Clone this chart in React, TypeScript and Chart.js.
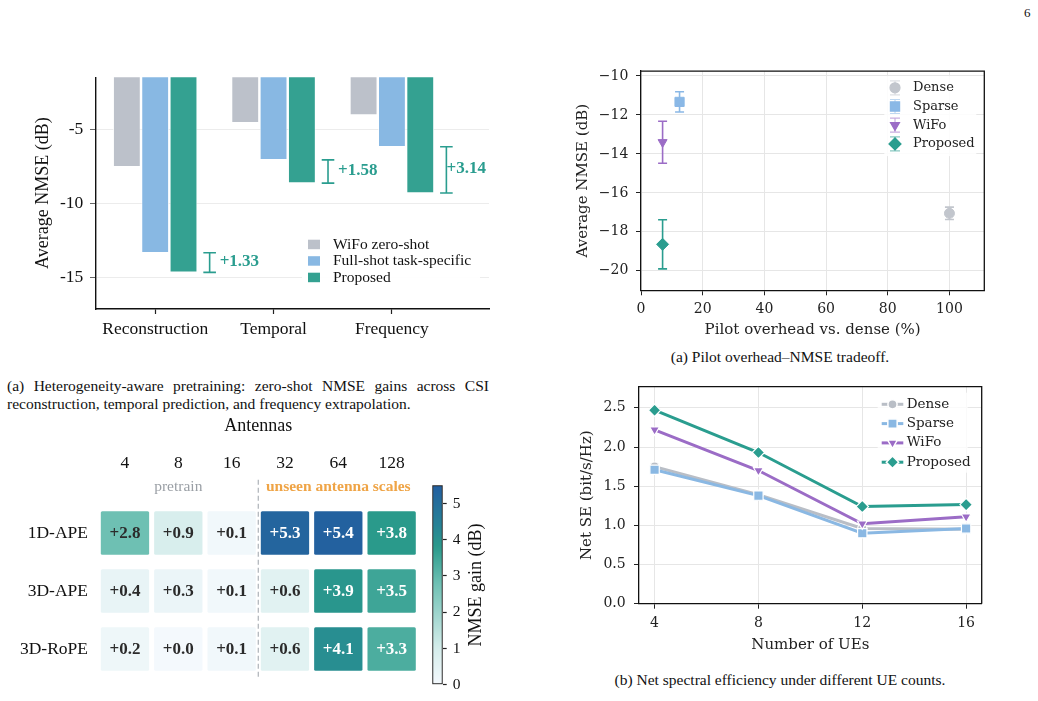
import React, { useEffect, useRef } from 'react';
import { Chart, registerables } from 'chart.js';
import { drawPoint } from 'chart.js/helpers';

Chart.register(...registerables);

// ---------------- Data: panel (a) bar chart ----------------
const taskCategories = ['Reconstruction', 'Temporal', 'Frequency'];
const barSeriesLabels = ['WiFo zero-shot', 'Full-shot task-specific', 'Proposed'];
const wifoZeroShot = [-7.5, -4.52, -4.0];
const fullShotTaskSpecific = [-13.35, -7.04, -6.15];
const proposedNmse = [-14.68, -8.62, -9.29];
const barYTicks = [-15, -10, -5];

// ---------------- Data: pilot overhead scatter ----------------
const scatterLabels = ['Dense', 'Sparse', 'WiFo', 'Proposed'];
const pilotOverhead = [100, 12.5, 7, 7];
const overheadNmse = [-17.05, -11.33, -13.4, -18.64];
const overheadNmseErr = [0.32, 0.52, 1.08, 1.26];
const scatterXTicks = [0, 20, 40, 60, 80, 100];
const scatterYTicks = [-20, -18, -16, -14, -12, -10];

// ---------------- Data: net SE line chart ----------------
const ueCounts = [4, 8, 12, 16];
const seDense = [1.75, 1.39, 0.96, 0.95];
const seSparse = [1.71, 1.38, 0.9, 0.96];
const seWifo = [2.22, 1.7, 1.02, 1.11];
const seProposed = [2.47, 1.93, 1.24, 1.265];
const seYTicks = [0, 0.5, 1, 1.5, 2, 2.5];

// ---------------- Data: heatmap ----------------
const antennaCounts = ['4', '8', '16', '32', '64', '128'];
const peVariants = ['1D-APE', '3D-APE', '3D-RoPE'];
const gain1DAPE = [2.8, 0.9, 0.1, 5.3, 5.4, 3.8];
const gain3DAPE = [0.4, 0.3, 0.1, 0.6, 3.9, 3.5];
const gain3DRoPE = [0.2, 0.0, 0.1, 0.6, 4.1, 3.3];
const groupLabels = ['pretrain', 'unseen antenna scales'];
const groupSpans = [[0, 2], [3, 5]];
const colorbarTicks = [0, 1, 2, 3, 4, 5];
const colorbarMax = 5.5;
const colorbarLabel = 'NMSE gain (dB)';

// ---------------- Styles ----------------
const TIMES = "'Liberation Serif', 'Times New Roman', serif";
const DV = "'DejaVu Serif', serif";
const GRAY = '#bcc1ca';
const BLUE = '#88b8e3';
const TEAL = '#34a191';
const TEAL_TXT = '#2a9d8f';
const PURPLE = '#9b6cc6';

const CMAP_STOPS: [number, number[]][] = [
  [0, [244, 249, 253]],
  [1, [213, 237, 235]],
  [2.8, [110, 192, 179]],
  [3.8, [42, 154, 139]],
  [4.4, [38, 130, 150]],
  [5.5, [35, 94, 160]],
];
function cmap(v: number): string {
  if (v <= CMAP_STOPS[0][0]) return `rgb(${CMAP_STOPS[0][1].join(',')})`;
  for (let i = 1; i < CMAP_STOPS.length; i++) {
    const [v1, c1] = CMAP_STOPS[i];
    const [v0, c0] = CMAP_STOPS[i - 1];
    if (v <= v1) {
      const t = (v - v0) / (v1 - v0);
      const c = c0.map((a, k) => Math.round(a + (c1[k] - a) * t));
      return `rgb(${c.join(',')})`;
    }
  }
  return `rgb(${CMAP_STOPS[CMAP_STOPS.length - 1][1].join(',')})`;
}

const fixTicks = (vals: number[]) => (scale: any) => {
  scale.ticks = vals.map((v) => ({ value: v }));
};
const minus = (v: any) => String(v).replace('-', '\u2212');

// ---------------- Chart configs ----------------
function barConfig(): any {
  const colors = [GRAY, BLUE, TEAL];
  const series = [wifoZeroShot, fullShotTaskSpecific, proposedNmse];
  const brackets = {
    id: 'gainBrackets',
    afterDatasetsDraw(chart: any) {
      const { ctx, chartArea: ca, scales } = chart;
      const { x, y } = scales;
      ctx.save();
      taskCategories.forEach((_, i) => {
        const bx = x.getPixelForValue(i + 0.46);
        const y1 = y.getPixelForValue(fullShotTaskSpecific[i]);
        const y2 = y.getPixelForValue(proposedNmse[i]);
        ctx.strokeStyle = TEAL_TXT;
        ctx.lineWidth = 1.6;
        ctx.beginPath();
        ctx.moveTo(bx, y1);
        ctx.lineTo(bx, y2);
        ctx.moveTo(bx - 6.3, y1);
        ctx.lineTo(bx + 6.3, y1);
        ctx.moveTo(bx - 6.3, y2);
        ctx.lineTo(bx + 6.3, y2);
        ctx.stroke();
        const gain = fullShotTaskSpecific[i] - proposedNmse[i];
        const txt = '+' + gain.toFixed(2);
        ctx.font = `bold 17px ${TIMES}`;
        const w = ctx.measureText(txt).width;
        const tx = Math.min(bx + 10, ca.right - w - 3);
        ctx.fillStyle = TEAL_TXT;
        ctx.textAlign = 'left';
        ctx.textBaseline = 'middle';
        ctx.fillText(txt, tx, (y1 + y2) / 2 - 1);
      });
      ctx.restore();
    },
  };
  const legend = {
    id: 'barLegend',
    afterDraw(chart: any) {
      const { ctx, chartArea: ca } = chart;
      const lx = ca.right - 181;
      const ly = ca.top + 167;
      ctx.save();
      ctx.fillStyle = 'rgba(255,255,255,0.92)';
      ctx.fillRect(lx - 6, ly - 10, 178, 52);
      chart.data.datasets.forEach((ds: any, i: number) => {
        const yy = ly + i * 16.5;
        ctx.fillStyle = ds.backgroundColor;
        ctx.fillRect(lx, yy - 4.5, 12, 9.5);
        ctx.fillStyle = '#111';
        ctx.font = `15.5px ${TIMES}`;
        ctx.textAlign = 'left';
        ctx.textBaseline = 'middle';
        ctx.fillText(ds.label, lx + 25, yy + 0.5);
      });
      ctx.restore();
    },
  };
  return {
    type: 'bar',
    data: {
      datasets: series.map((vals, s) => ({
        label: barSeriesLabels[s],
        data: vals.map((y, i) => ({ x: i, y })),
        backgroundColor: colors[s],
        borderColor: '#ffffff',
        borderWidth: 0.8,
        categoryPercentage: 0.718,
        barPercentage: 0.97,
        clip: 0,
      })),
    },
    options: {
      animation: false,
      responsive: false,
      layout: { padding: { top: 17, right: 11, left: 0, bottom: 0 } },
      plugins: { legend: { display: false }, tooltip: { enabled: false } },
      scales: {
        x: {
          type: 'linear',
          min: -0.5,
          max: 2.82,
          offset: false,
          afterBuildTicks: fixTicks(taskCategories.map((_, i) => i)),
          afterFit: (s: any) => { s.height = 41; },
          ticks: {
            callback: (v: any) => taskCategories[v],
            font: { family: TIMES, size: 17.5 },
            color: '#111',
            padding: 4.5,
            maxRotation: 0,
          },
          grid: { display: true, offset: false, drawOnChartArea: false, drawTicks: true, tickLength: 5, tickColor: '#222', tickWidth: 1.2 },
          border: { display: true, color: '#111', width: 1.4 },
        },
        y: {
          type: 'linear',
          min: -17.17,
          max: -1.42,
          afterBuildTicks: fixTicks(barYTicks),
          afterFit: (s: any) => { s.width = 96; },
          ticks: { callback: (v: any) => String(v), font: { family: TIMES, size: 17.5 }, color: '#111', padding: 6.7 },
          grid: { color: '#ececec', lineWidth: 1, tickColor: '#666', tickLength: 6 },
          border: { display: true, color: '#111', width: 1.4 },
          title: { display: true, text: 'Average NMSE (dB)', font: { family: TIMES, size: 18 }, color: '#111', padding: { top: 32.2, bottom: 0 } },
        },
      },
    },
    plugins: [brackets, legend],
  };
}

const boxSpines = {
  id: 'boxSpines',
  afterDraw(chart: any) {
    const { ctx, chartArea: ca } = chart;
    ctx.save();
    ctx.strokeStyle = '#111';
    ctx.lineWidth = 1.3;
    ctx.beginPath();
    ctx.moveTo(ca.left, ca.top);
    ctx.lineTo(ca.right, ca.top);
    ctx.lineTo(ca.right, ca.bottom);
    ctx.stroke();
    ctx.restore();
  },
};

const SCATTER_STYLE = [
  { color: '#c2c6cd', pointStyle: 'circle', radius: 5, rotation: 0 },
  { color: '#8ab8e6', pointStyle: 'rect', radius: 6.5, rotation: 0 },
  { color: PURPLE, pointStyle: 'triangle', radius: 5.2, rotation: 180 },
  { color: TEAL_TXT, pointStyle: 'rectRot', radius: 6, rotation: 0 },
];

function scatterConfig(): any {
  const errBars = {
    id: 'errBars',
    beforeDatasetsDraw(chart: any) {
      const { ctx, scales } = chart;
      const { x, y } = scales;
      ctx.save();
      scatterLabels.forEach((_, i) => {
        const px = x.getPixelForValue(pilotOverhead[i]);
        const t = y.getPixelForValue(overheadNmse[i] + overheadNmseErr[i]);
        const b = y.getPixelForValue(overheadNmse[i] - overheadNmseErr[i]);
        ctx.strokeStyle = SCATTER_STYLE[i].color;
        ctx.lineWidth = 1.6;
        ctx.beginPath();
        ctx.moveTo(px, t);
        ctx.lineTo(px, b);
        ctx.moveTo(px - 4.5, t);
        ctx.lineTo(px + 4.5, t);
        ctx.moveTo(px - 4.5, b);
        ctx.lineTo(px + 4.5, b);
        ctx.stroke();
      });
      ctx.restore();
    },
  };
  const legend = {
    id: 'scatterLegend',
    afterDraw(chart: any) {
      const { ctx, chartArea: ca } = chart;
      ctx.save();
      ctx.fillStyle = 'rgba(255,255,255,0.85)';
      ctx.fillRect(ca.right - 100, ca.top + 5, 92, 80);
      chart.data.datasets.forEach((ds: any, i: number) => {
        const st = SCATTER_STYLE[i];
        const mx = ca.right - 89.3;
        const my = ca.top + 16.7 + i * 18.7;
        ctx.globalAlpha = 0.55;
        ctx.strokeStyle = st.color;
        ctx.lineWidth = 1.2;
        ctx.beginPath();
        ctx.moveTo(mx, my - 7);
        ctx.lineTo(mx, my + 7);
        ctx.moveTo(mx - 5, my - 7);
        ctx.lineTo(mx + 5, my - 7);
        ctx.moveTo(mx - 5, my + 7);
        ctx.lineTo(mx + 5, my + 7);
        ctx.stroke();
        ctx.globalAlpha = 1;
        ctx.fillStyle = st.color;
        ctx.strokeStyle = st.color;
        drawPoint(ctx, { pointStyle: st.pointStyle, radius: st.radius, rotation: st.rotation, borderWidth: 1 } as any, mx, my);
        ctx.fillStyle = '#222';
        ctx.font = `13px ${DV}`;
        ctx.textAlign = 'left';
        ctx.textBaseline = 'middle';
        ctx.fillText(ds.label, mx + 18, my);
      });
      ctx.restore();
    },
  };
  return {
    type: 'scatter',
    data: {
      datasets: scatterLabels.map((lab, i) => ({
        label: lab,
        data: [{ x: pilotOverhead[i], y: overheadNmse[i] }],
        pointStyle: SCATTER_STYLE[i].pointStyle,
        pointRadius: SCATTER_STYLE[i].radius,
        pointRotation: SCATTER_STYLE[i].rotation,
        backgroundColor: SCATTER_STYLE[i].color,
        borderColor: SCATTER_STYLE[i].color,
        borderWidth: 1,
      })),
    },
    options: {
      animation: false,
      responsive: false,
      layout: { padding: { top: 14, right: 15.7, left: 0, bottom: 0 } },
      plugins: { legend: { display: false }, tooltip: { enabled: false } },
      scales: {
        x: {
          type: 'linear',
          min: 0,
          max: 111.3,
          afterBuildTicks: fixTicks(scatterXTicks),
          afterFit: (s: any) => { s.height = 54.7; },
          ticks: { callback: (v: any) => String(v), font: { family: DV, size: 14 }, color: '#222', padding: 5.3, maxRotation: 0 },
          grid: { color: '#e6e6e6', lineWidth: 1, tickColor: '#222', tickLength: 5 },
          border: { display: true, color: '#111', width: 1.3 },
          title: { display: true, text: 'Pilot overhead vs. dense (%)', font: { family: DV, size: 15 }, color: '#222', padding: { top: 0, bottom: 6 } },
        },
        y: {
          type: 'linear',
          min: -21,
          max: -9.75,
          afterBuildTicks: fixTicks(scatterYTicks),
          afterFit: (s: any) => { s.width = 81; },
          ticks: { callback: minus, font: { family: DV, size: 14 }, color: '#222', padding: 7.7 },
          grid: { color: '#e6e6e6', lineWidth: 1, tickColor: '#222', tickLength: 5 },
          border: { display: true, color: '#111', width: 1.3 },
          title: { display: true, text: 'Average NMSE (dB)', font: { family: DV, size: 15 }, color: '#222', padding: { top: 14.3, bottom: 0 } },
        },
      },
    },
    plugins: [errBars, boxSpines, legend],
  };
}

const LINE_STYLE = [
  { color: '#b9bec6', pointStyle: 'circle', radius: 4.6, rotation: 0 },
  { color: '#8ab8e3', pointStyle: 'rect', radius: 6.6, rotation: 0 },
  { color: PURPLE, pointStyle: 'triangle', radius: 5.6, rotation: 180 },
  { color: TEAL_TXT, pointStyle: 'rectRot', radius: 6.2, rotation: 0 },
];

function lineConfig(): any {
  const series = [seDense, seSparse, seWifo, seProposed];
  const legend = {
    id: 'lineLegend',
    afterDraw(chart: any) {
      const { ctx, chartArea: ca } = chart;
      ctx.save();
      ctx.fillStyle = 'rgba(255,255,255,0.8)';
      ctx.fillRect(ca.right - 104, ca.top + 6, 90, 80);
      chart.data.datasets.forEach((ds: any, i: number) => {
        const st = LINE_STYLE[i];
        const mx = ca.right - 89.2;
        const my = ca.top + 17.6 + i * 19.3;
        ctx.strokeStyle = st.color;
        ctx.lineWidth = 3;
        ctx.beginPath();
        ctx.moveTo(mx - 10.8, my);
        ctx.lineTo(mx + 10.8, my);
        ctx.stroke();
        ctx.fillStyle = st.color;
        ctx.strokeStyle = '#ffffff';
        ctx.lineWidth = 1.5;
        drawPoint(ctx, { pointStyle: st.pointStyle, radius: st.radius, rotation: st.rotation, borderWidth: 1.5 } as any, mx, my);
        ctx.fillStyle = '#222';
        ctx.font = `13.5px ${DV}`;
        ctx.textAlign = 'left';
        ctx.textBaseline = 'middle';
        ctx.fillText(ds.label, mx + 14.2, my);
      });
      ctx.restore();
    },
  };
  return {
    type: 'line',
    data: {
      datasets: series.map((vals, i) => ({
        label: scatterLabels[i],
        data: vals.map((y, k) => ({ x: ueCounts[k], y })),
        borderColor: LINE_STYLE[i].color,
        backgroundColor: LINE_STYLE[i].color,
        borderWidth: 3,
        pointStyle: LINE_STYLE[i].pointStyle,
        pointRadius: LINE_STYLE[i].radius,
        pointRotation: LINE_STYLE[i].rotation,
        pointBackgroundColor: LINE_STYLE[i].color,
        pointBorderColor: '#ffffff',
        pointBorderWidth: 1.2,
        tension: 0,
        fill: false,
        order: 4 - i,
      })),
    },
    options: {
      animation: false,
      responsive: false,
      layout: { padding: { top: 4.7, right: 18.3, left: 0, bottom: 0 } },
      plugins: { legend: { display: false }, tooltip: { enabled: false } },
      scales: {
        x: {
          type: 'linear',
          min: 3.4,
          max: 16.6,
          afterBuildTicks: fixTicks(ueCounts),
          afterFit: (s: any) => { s.height = 56.3; },
          ticks: { callback: (v: any) => String(v), font: { family: DV, size: 14 }, color: '#222', padding: 6.2, maxRotation: 0 },
          grid: { color: '#e6e6e6', lineWidth: 1, tickColor: '#222', tickLength: 5 },
          border: { display: true, color: '#111', width: 1.3 },
          title: { display: true, text: 'Number of UEs', font: { family: DV, size: 15 }, color: '#222', padding: { top: 0, bottom: 6 } },
        },
        y: {
          type: 'linear',
          min: 0,
          max: 2.77,
          afterBuildTicks: fixTicks(seYTicks),
          afterFit: (s: any) => { s.width = 79; },
          ticks: { callback: (v: any) => Number(v).toFixed(1), font: { family: DV, size: 14 }, color: '#222', padding: 8.3 },
          grid: { color: '#e6e6e6', lineWidth: 1, tickColor: '#222', tickLength: 5 },
          border: { display: true, color: '#111', width: 1.3 },
          title: { display: true, text: 'Net SE (bit/s/Hz)', font: { family: DV, size: 15 }, color: '#222', padding: { top: 17.7, bottom: 0 } },
        },
      },
    },
    plugins: [boxSpines, legend],
  };
}

function heatmapConfig(): any {
  const rows = [gain1DAPE, gain3DAPE, gain3DRoPE];
  const CELL_HALF = 0.376;
  const deco = {
    id: 'heatDeco',
    beforeDatasetsDraw(chart: any) {
      const { ctx, chartArea: ca, scales } = chart;
      const sx = (scales.x.getPixelForValue(groupSpans[0][1]) + scales.x.getPixelForValue(groupSpans[1][0])) / 2;
      ctx.save();
      ctx.strokeStyle = '#b4b8bd';
      ctx.lineWidth = 1.3;
      ctx.setLineDash([5, 3]);
      ctx.beginPath();
      ctx.moveTo(sx, ca.top);
      ctx.lineTo(sx, ca.bottom);
      ctx.stroke();
      ctx.restore();
    },
    afterDatasetsDraw(chart: any) {
      const { ctx, scales } = chart;
      ctx.save();
      ctx.textAlign = 'center';
      ctx.textBaseline = 'middle';
      ctx.font = `bold 17px ${TIMES}`;
      rows.forEach((vals, r) => {
        const meta = chart.getDatasetMeta(r);
        meta.data.forEach((el: any, c: number) => {
          const v = vals[c];
          ctx.fillStyle = v >= 3 ? '#ffffff' : '#2b2b2b';
          ctx.fillText('+' + v.toFixed(1), el.x, (el.y + el.base) / 2 + 1);
        });
      });
      const gy = scales.y.getPixelForValue(-0.797);
      groupLabels.forEach((lab, g) => {
        const gx = scales.x.getPixelForValue((groupSpans[g][0] + groupSpans[g][1]) / 2);
        ctx.font = g === 0 ? `15.5px ${TIMES}` : `bold 15.5px ${TIMES}`;
        ctx.fillStyle = g === 0 ? '#9a9fa5' : '#efa446';
        ctx.fillText(lab, gx, gy);
      });
      ctx.restore();
    },
  };
  return {
    type: 'bar',
    data: {
      labels: antennaCounts,
      datasets: rows.map((vals, r) => ({
        label: peVariants[r],
        data: vals.map(() => [r - CELL_HALF, r + CELL_HALF]),
        backgroundColor: vals.map((v) => cmap(v)),
        borderWidth: 0,
        borderRadius: 1.5,
        borderSkipped: false,
        grouped: false,
        barPercentage: 0.906,
        categoryPercentage: 1,
      })),
    },
    options: {
      animation: false,
      responsive: false,
      layout: { padding: { top: 0, right: 6.7, left: 0, bottom: 7.1 } },
      plugins: { legend: { display: false }, tooltip: { enabled: false } },
      scales: {
        x: {
          position: 'top',
          afterFit: (s: any) => { s.height = 64.7; },
          ticks: { font: { family: TIMES, size: 17.5 }, color: '#111', padding: 5.9, maxRotation: 0 },
          grid: { display: false, drawTicks: false },
          border: { display: false },
          title: { display: true, text: 'Antennas', font: { family: TIMES, size: 18 }, color: '#111', padding: { top: 0.2, bottom: 0 } },
        },
        y: {
          type: 'linear',
          min: -0.92,
          max: 2.52,
          reverse: true,
          afterBuildTicks: fixTicks(peVariants.map((_, i) => i)),
          afterFit: (s: any) => { s.width = 98.3; },
          ticks: { callback: (v: any) => peVariants[v], font: { family: TIMES, size: 17.5 }, color: '#111', padding: 10.3 },
          grid: { display: false, drawTicks: false },
          border: { display: false },
        },
      },
    },
    plugins: [deco],
  };
}

function colorbarConfig(): any {
  const cbTitle = {
    id: 'cbTitle',
    afterDraw(chart: any) {
      const { ctx, chartArea: ca } = chart;
      ctx.save();
      ctx.translate(chart.width - 23.3, (ca.top + ca.bottom) / 2);
      ctx.rotate(-Math.PI / 2);
      ctx.font = `18px ${TIMES}`;
      ctx.fillStyle = '#111';
      ctx.textAlign = 'center';
      ctx.textBaseline = 'middle';
      ctx.fillText(colorbarLabel, 0, 0);
      ctx.restore();
    },
  };
  return {
    type: 'bar',
    data: {
      labels: [''],
      datasets: [
        {
          label: colorbarLabel,
          data: [[0, colorbarMax]],
          backgroundColor: (context: any) => {
            const chart = context.chart;
            if (!chart.chartArea) return cmap(0);
            const y = chart.scales.y;
            const g = chart.ctx.createLinearGradient(0, y.getPixelForValue(0), 0, y.getPixelForValue(colorbarMax));
            for (let k = 0; k <= 40; k++) {
              g.addColorStop(k / 40, cmap((colorbarMax * k) / 40));
            }
            return g;
          },
          borderColor: '#222',
          borderWidth: 1.3,
          borderSkipped: false,
          barPercentage: 1,
          categoryPercentage: 1,
        },
      ],
    },
    options: {
      animation: false,
      responsive: false,
      layout: { padding: { top: 10, right: 0, left: 7.3, bottom: 7.3 } },
      plugins: { legend: { display: false }, tooltip: { enabled: false } },
      scales: {
        x: { display: false },
        y: {
          position: 'right',
          min: 0,
          max: colorbarMax,
          afterBuildTicks: fixTicks(colorbarTicks),
          afterFit: (s: any) => { s.width = 57.3; },
          ticks: { font: { family: TIMES, size: 15.5 }, color: '#111', padding: 6 },
          grid: { drawOnChartArea: false, drawTicks: true, tickLength: 4, tickColor: '#222', tickWidth: 1.2 },
          border: { display: false },
        },
      },
    },
    plugins: [cbTitle],
  };
}

// ---------------- Components ----------------
function ChartCanvas({ makeConfig, left, top, width, height }: any) {
  const ref = useRef<HTMLCanvasElement>(null);
  useEffect(() => {
    const chart = new Chart(ref.current as HTMLCanvasElement, makeConfig());
    return () => chart.destroy();
  }, []);
  return (
    <canvas
      ref={ref}
      width={width}
      height={height}
      style={{ position: 'absolute', left, top, width, height, display: 'block' }}
    />
  );
}

const captionStyle: React.CSSProperties = {
  position: 'absolute',
  fontFamily: TIMES,
  fontSize: 15.5,
  lineHeight: '18px',
  color: '#111',
  whiteSpace: 'nowrap',
};

export default function App() {
  return (
    <div style={{ position: 'absolute', left: 0, top: 0, width: 1038, height: 701, background: '#fff', overflow: 'hidden' }}>
      <div style={{ ...captionStyle, left: 1024, top: 4, fontSize: 13 }}>6</div>
      <ChartCanvas makeConfig={barConfig} left={0} top={60} width={500} height={290} />
      <ChartCanvas makeConfig={scatterConfig} left={560} top={55} width={440} height={290} />
      <ChartCanvas makeConfig={lineConfig} left={560} top={370} width={440} height={290} />
      <ChartCanvas makeConfig={heatmapConfig} left={0} top={415} width={425} height={285} />
      <ChartCanvas makeConfig={colorbarConfig} left={425} top={470} width={75} height={230} />
      <div style={{ ...captionStyle, left: 7, top: 377, width: 482, textAlign: 'justify', textAlignLast: 'justify' as any }}>
        (a) Heterogeneity-aware pretraining: zero-shot NMSE gains across CSI
      </div>
      <div style={{ ...captionStyle, left: 7, top: 395 }}>
        reconstruction, temporal prediction, and frequency extrapolation.
      </div>
      <div style={{ ...captionStyle, left: 580, top: 347.7, width: 400, textAlign: 'center' }}>
        (a) Pilot overhead–NMSE tradeoff.
      </div>
      <div style={{ ...captionStyle, left: 580, top: 671, width: 400, textAlign: 'center' }}>
        (b) Net spectral efficiency under different UE counts.
      </div>
    </div>
  );
}
